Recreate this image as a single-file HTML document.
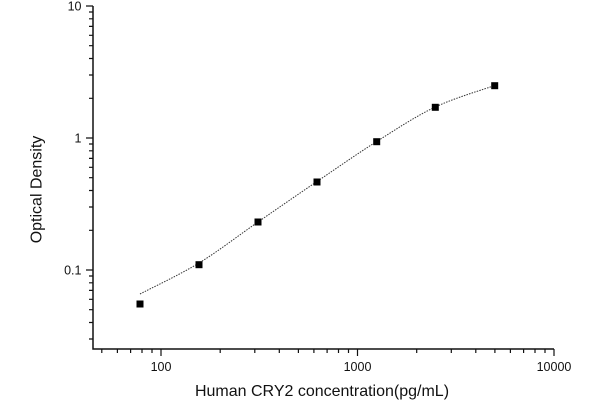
<!DOCTYPE html>
<html>
<head>
<meta charset="utf-8">
<style>
html,body{margin:0;padding:0;background:#fff;}
svg{display:block;}
text{font-family:"Liberation Sans",Arial,sans-serif;fill:#111;}
</style>
</head>
<body>
<svg width="600" height="400" viewBox="0 0 600 400" xmlns="http://www.w3.org/2000/svg">
<rect width="600" height="400" fill="#fff"/>
<g stroke="#111" stroke-width="1.5" fill="none">
  <!-- axes -->
  <path d="M93 6 V349 H554"/>
</g>
<g stroke="#111" stroke-width="1.2" fill="none">
  <!-- y major ticks -->
  <path d="M86 6 H93 M86 138 H93 M86 270 H93"/>
  <!-- y minor ticks -->
  <path d="M89 98.3H93 M89 75H93 M89 58.5H93 M89 45.7H93 M89 35.3H93 M89 26.4H93 M89 18.8H93 M89 12H93
           M89 230.3H93 M89 207H93 M89 190.5H93 M89 177.7H93 M89 167.3H93 M89 158.4H93 M89 150.8H93 M89 144H93
           M89 276H93 M89 282.8H93 M89 290.4H93 M89 299.3H93 M89 309.7H93 M89 322.5H93 M89 339H93"/>
  <!-- x major ticks -->
  <path d="M161 349 V356 M357.5 349 V356 M554 349 V356"/>
  <!-- x minor ticks -->
  <path d="M101.8 349V353 M117.4 349V353 M130.6 349V353 M142 349V353 M152 349V353
           M220.2 349V353 M254.8 349V353 M279.3 349V353 M298.4 349V353 M313.9 349V353 M327.1 349V353 M338.5 349V353 M348.5 349V353
           M416.7 349V353 M451.3 349V353 M475.8 349V353 M494.9 349V353 M510.4 349V353 M523.6 349V353 M535 349V353 M545 349V353"/>
</g>
<!-- fitted curve -->
<path d="M140 294 C149.8 288.8 179.3 275 199 263 C218.7 251 238.3 235.6 258 222 C277.7 208.4 297.2 194.9 317 181.5 C336.8 168.1 357 153.9 376.7 141.5 C396.4 129.1 415.6 116.3 435.3 107 C455 97.7 484.8 89.1 494.7 85.5"
      fill="none" stroke="#333" stroke-width="1" stroke-dasharray="1.5,1.2"/>
<!-- points -->
<g fill="#000">
  <rect x="136.5" y="300.5" width="7" height="7"/>
  <rect x="195.5" y="261.2" width="7" height="7"/>
  <rect x="254.5" y="218.5" width="7" height="7"/>
  <rect x="313.5" y="178.5" width="7" height="7"/>
  <rect x="373.2" y="138.2" width="7" height="7"/>
  <rect x="431.8" y="103.8" width="7" height="7"/>
  <rect x="491.2" y="82.2" width="7" height="7"/>
</g>
<!-- y tick labels -->
<g font-size="12.5" text-anchor="end">
  <text x="81.5" y="10.5">10</text>
  <text x="81.5" y="142.5">1</text>
  <text x="81.5" y="274.5">0.1</text>
</g>
<!-- x tick labels -->
<g font-size="12.5" text-anchor="middle">
  <text x="161" y="371">100</text>
  <text x="357.5" y="371">1000</text>
  <text x="554" y="371">10000</text>
</g>
<!-- axis titles -->
<text x="322" y="396" font-size="16" text-anchor="middle">Human CRY2 concentration(pg/mL)</text>
<text transform="translate(41.5,189.5) rotate(-90)" font-size="16" text-anchor="middle">Optical Density</text>
</svg>
</body>
</html>
